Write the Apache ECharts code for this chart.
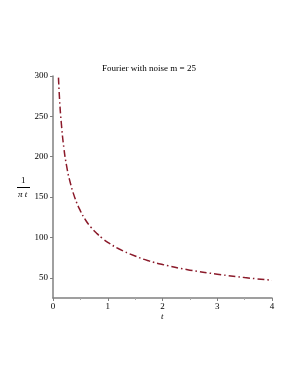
<!DOCTYPE html>
<html><head><meta charset="utf-8">
<script src="https://cdn.jsdelivr.net/npm/echarts@6/dist/echarts.min.js"></script>
<style>html,body{margin:0;padding:0;background:#fff}#c{width:295px;height:382px}</style>
</head><body><div id="c"></div>
<script>
const titleText = "Fourier with noise m = 25";
const tValues = [0.1, 0.12, 0.15, 0.2, 0.25, 0.3, 0.4, 0.5, 0.6, 0.7, 0.8, 0.9, 1.0, 1.2, 1.5, 1.75, 2.0, 2.5, 3.0, 3.5, 4.0];
const yValues = [298, 271, 243, 210, 188, 172, 149, 133, 121, 112, 105, 99, 94, 86, 77, 71, 66.5, 59.5, 54.5, 50.3, 47];
const xTicks = [0, 1, 2, 3, 4];
const yTicks = [50, 100, 150, 200, 250, 300];

const chart = echarts.init(document.getElementById('c'));
const serif = '"Liberation Serif","DejaVu Serif",serif';
chart.setOption({
  animation: false,
  title: {text: titleText, left: 144, top: 59, textAlign: 'center',
    textStyle: {fontFamily: serif, fontSize: 9, fontWeight: 'normal', color: '#000'}},
  grid: {left: 53, right: 23, top: 76, bottom: 84},
  xAxis: {type: 'value', min: 0, max: 4, interval: 1,
    axisLine: {lineStyle: {color: '#808080', width: 1.5}},
    axisTick: {show: true, length: 3, lineStyle: {color: '#808080'}},
    minorTick: {show: true, splitNumber: 2, length: 2, lineStyle: {color: '#aaa'}},
    splitLine: {show: false},
    axisLabel: {fontFamily: serif, fontSize: 9, color: '#000', margin: 4}},
  yAxis: {type: 'value', min: 25, max: 300,
    axisLine: {show: true, lineStyle: {color: '#808080', width: 1.5}},
    axisTick: {show: true, length: 3, customValues: yTicks, lineStyle: {color: '#808080'}},
    splitLine: {show: false},
    axisLabel: {fontFamily: serif, fontSize: 9, color: '#000', margin: 5, customValues: yTicks}},
  graphic: [
    {type: 'text', left: 21, top: 176, style: {text: '1', font: '9px ' + serif, fill: '#000'}},
    {type: 'line', shape: {x1: 17, y1: 187.5, x2: 30, y2: 187.5}, style: {stroke: '#000', lineWidth: 1}},
    {type: 'text', left: 18, top: 190, style: {text: 'π t', font: 'italic 9px ' + serif, fill: '#000'}},
    {type: 'text', left: 161, top: 312, style: {text: 't', font: 'italic 9px ' + serif, fill: '#000'}}
  ],
  series: [{type: 'line', data: tValues.map((t, i) => [t, yValues[i]]), smooth: true, showSymbol: false,
    lineStyle: {color: '#8b1a2a', width: 1.5, type: [7, 3, 1.5, 3]}}]
});
</script></body></html>
